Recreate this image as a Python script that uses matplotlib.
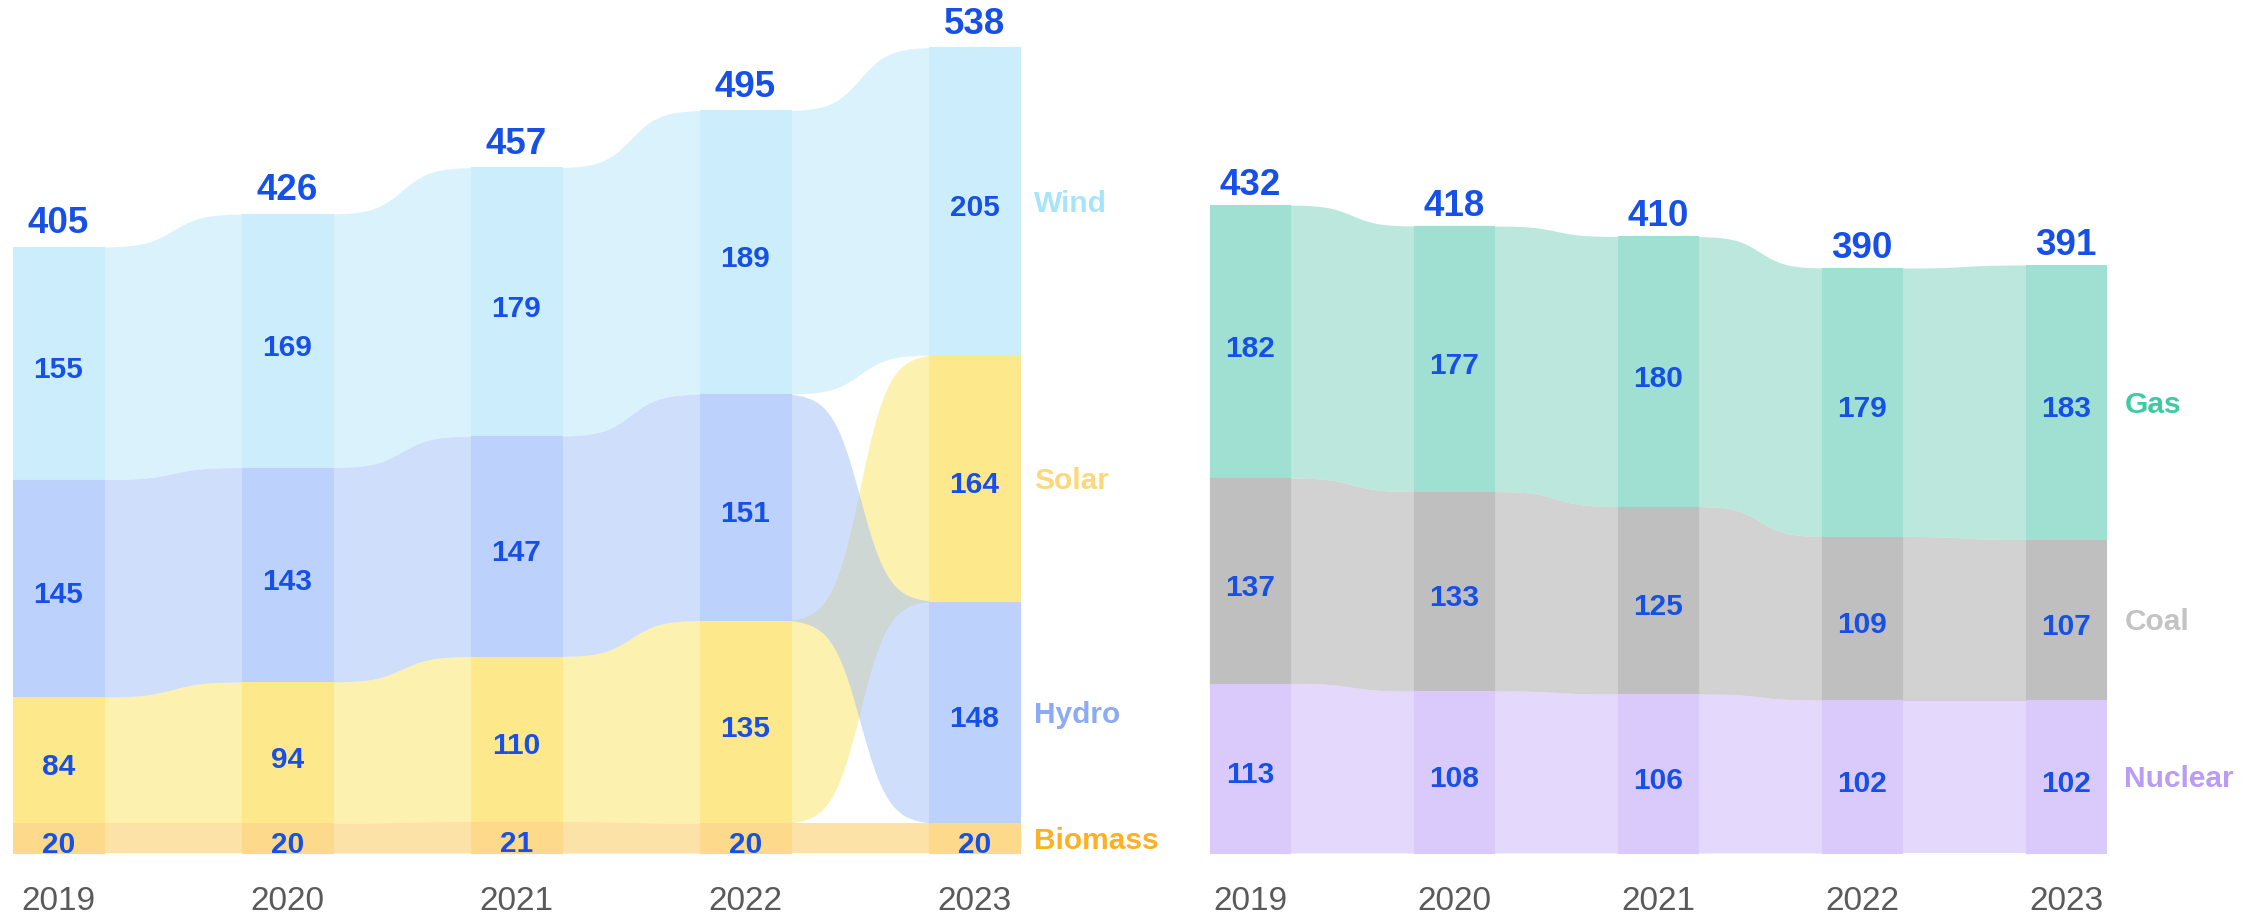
import numpy as np
import matplotlib
matplotlib.use("Agg")
import matplotlib.pyplot as plt
from matplotlib.colors import to_rgb

# ---------------- data ----------------
years = ["2019", "2020", "2021", "2022", "2023"]

ren_names = ["Wind", "Hydro", "Solar", "Biomass"]
wind = [155, 169, 179, 189, 205]
hydro = [145, 143, 147, 151, 148]
solar = [84, 94, 110, 135, 164]
biomass = [20, 20, 21, 20, 20]
ren_totals = [405, 426, 457, 495, 538]

fos_names = ["Gas", "Coal", "Nuclear"]
gas = [182, 177, 180, 179, 183]
coal = [137, 133, 125, 109, 107]
nuclear = [113, 108, 106, 102, 102]
fos_totals = [432, 418, 410, 390, 391]

# ---------------- styles ----------------
# (bar colour, ribbon colour as seen over white, label colour)
styles = {
    "Wind":    ("#ccedfc", "#dbf3fc", "#a6e4fb"),
    "Hydro":   ("#bcd1fb", "#d0dffc", "#8caaf5"),
    "Solar":   ("#fde98b", "#fdf2b0", "#fcd87a"),
    "Biomass": ("#fdd98b", "#fde3a8", "#fdb020"),
    "Gas":     ("#9fe0d2", "#bde8de", "#3fcaa5"),
    "Coal":    ("#bfbfbf", "#d3d3d3", "#c3c3c3"),
    "Nuclear": ("#dacafb", "#e5dafd", "#b99cf6"),
}
VAL_COLOR = "#1650e6"
YEAR_COLOR = "#5a5a5a"
FONT = "Liberation Sans"
RIB_ALPHA = 0.5

W, H, DPI = 22.62, 9.16, 100
PX_PER_UNIT = 1.5
BASE_PX = 853  # baseline from top


def base_color(light, a=RIB_ALPHA):
    c = np.array(to_rgb(light))
    b = (c - (1 - a)) / a
    return tuple(np.clip(b, 0, 1))


def sig(t, k=10.0):
    s = 1 / (1 + np.exp(-k * (t - 0.5)))
    s0 = 1 / (1 + np.exp(k * 0.5))
    s1 = 1 / (1 + np.exp(-k * 0.5))
    return (s - s0) / (s1 - s0)


def draw_panel(ax, names, series, totals, bar_w, label_dx, total_gap):
    n = len(years)
    vals = np.array(series, dtype=float)  # (nseries, nyears)
    bottoms = np.zeros_like(vals)
    for j in range(n):
        order = np.argsort(vals[:, j], kind="stable")
        acc = 0.0
        for s in order:
            bottoms[s, j] = acc
            acc += vals[s, j]
    tops = bottoms + vals
    hw = bar_w / 2

    # ribbons (drawn bottom series first so upper series lie on top)
    for s in reversed(range(len(names))):
        name = names[s]
        col = base_color(styles[name][1])
        for j in range(n - 1):
            x0, x1 = j + hw - 0.01, j + 1 - hw + 0.01
            xs = np.linspace(x0, x1, 200)
            t = (xs - x0) / (x1 - x0)
            st = sig(t)
            yt = tops[s, j] + (tops[s, j + 1] - tops[s, j]) * st
            yb = bottoms[s, j] + (bottoms[s, j + 1] - bottoms[s, j]) * st
            ax.fill_between(xs, yb, yt, color=col, alpha=RIB_ALPHA, lw=0, zorder=1)

    # bars
    for s, name in enumerate(names):
        ax.bar(np.arange(n), vals[s], bottom=bottoms[s], width=bar_w,
               color=styles[name][0], edgecolor=styles[name][0], lw=0.8,
               zorder=2)

    fs_val = 21.5
    cap_units = 0.716 * fs_val * DPI / 72 / PX_PER_UNIT
    for s, name in enumerate(names):
        for j in range(n):
            mid = bottoms[s, j] + vals[s, j] / 2
            ax.text(j, mid - cap_units / 2 - 3, f"{int(vals[s, j])}",
                    ha="center", va="baseline", fontsize=fs_val,
                    fontweight="bold", color=VAL_COLOR, family=FONT, zorder=3)
        mid = bottoms[s, n - 1] + vals[s, n - 1] / 2
        ax.text(n - 1 + hw + label_dx, mid - cap_units / 2, name,
                ha="left", va="baseline", fontsize=fs_val, fontweight="bold",
                color=styles[name][2], family=FONT, zorder=3)

    stack_tops = tops.max(axis=0)
    for j in range(n):
        ax.text(j, stack_tops[j] + total_gap, f"{totals[j]}", ha="center",
                va="baseline", fontsize=26.5, fontweight="bold",
                color=VAL_COLOR, family=FONT, zorder=3)
        ax.text(j, -38.3, years[j], ha="center", va="baseline", fontsize=24,
                color=YEAR_COLOR, family=FONT, zorder=3)


fig = plt.figure(figsize=(W, H), dpi=DPI)
fig.patch.set_facecolor("white")

ylim = (-(H * DPI - BASE_PX) / PX_PER_UNIT, BASE_PX / PX_PER_UNIT)

# left panel: centres at px 58.5 + 229*i, axes spans px 0..1131
axL = fig.add_axes([0, 0, 1131 / 2262, 1])
c0, sp = 58.5, 229.0
axL.set_xlim((0 - c0) / sp, (1131 - c0) / sp)
axL.set_ylim(*ylim)
axL.axis("off")
draw_panel(axL, ren_names, [wind, hydro, solar, biomass], ren_totals,
           bar_w=0.397, label_dx=0.062, total_gap=9.0)

# right panel: centres at px 1250 + 204*i, axes spans px 1131..2262
axR = fig.add_axes([1131 / 2262, 0, 1131 / 2262, 1])
c0, sp = 1250.0, 204.0
axR.set_xlim((1131 - c0) / sp, (2262 - c0) / sp)
axR.set_ylim(*ylim)
axR.axis("off")
draw_panel(axR, fos_names, [gas, coal, nuclear], fos_totals,
           bar_w=0.393, label_dx=0.09, total_gap=6.7)

fig.savefig("out.png", dpi=DPI, facecolor="white")
